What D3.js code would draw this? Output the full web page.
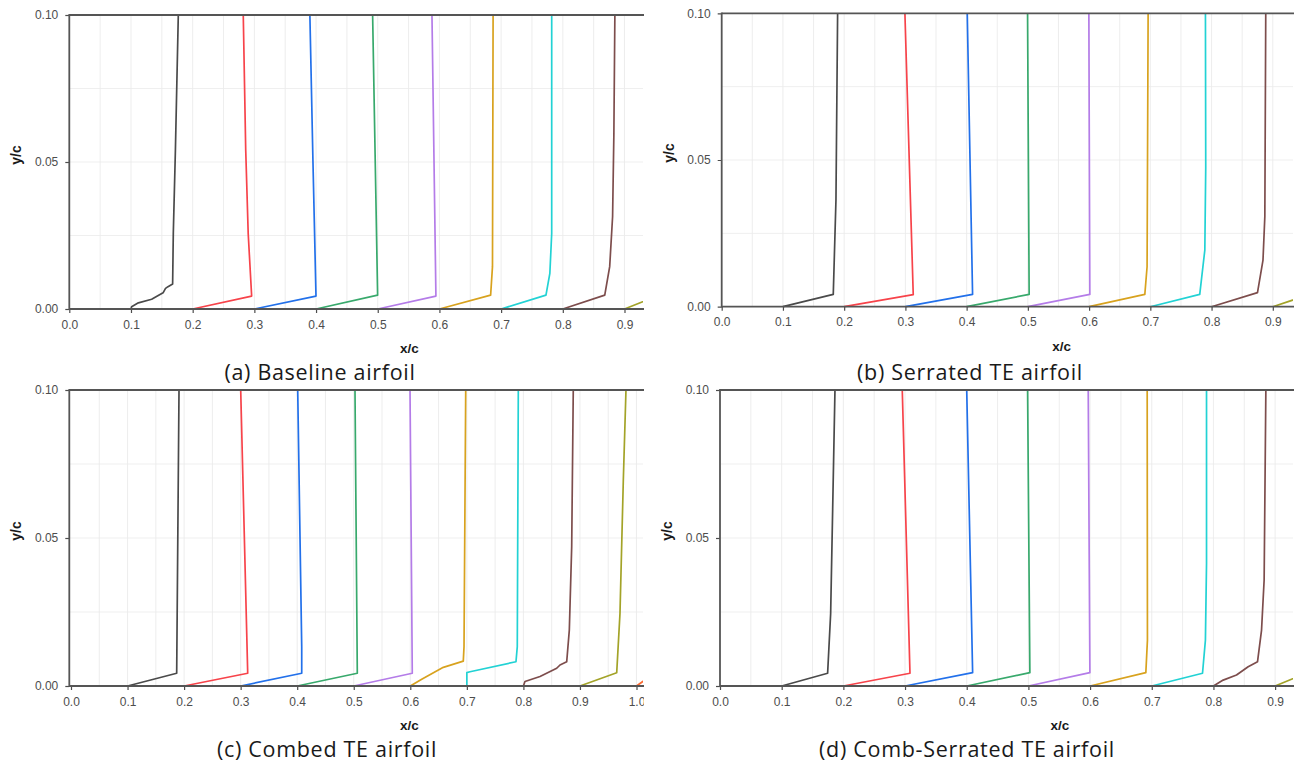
<!DOCTYPE html>
<html>
<head>
<meta charset="utf-8">
<script src="https://cdn.jsdelivr.net/npm/d3@7"></script>
<style>
  html, body { margin: 0; padding: 0; background: #ffffff; }
  svg { display: block; }
</style>
</head>
<body>
<svg id="chart" width="1303" height="767"></svg>
<script>
// Boundary-layer profiles at ten chordwise stations, one array of profiles per trailing-edge design.
// Each profile is a list of [x/c, y/c] points.
const stationColors = ["#4a4a4a", "#f7434a", "#2270ea", "#38a96c", "#b47ce8", "#d8a21e", "#22d2d4", "#7d4d4c", "#a3a328", "#fb6a32"];

const baselineProfiles = [
  [[0.1, 0], [0.101, 0.0008], [0.112, 0.0021], [0.1335, 0.0033], [0.152, 0.0055], [0.156, 0.007], [0.160, 0.0076], [0.1675, 0.0085], [0.1686, 0.0257], [0.172, 0.054], [0.1767, 0.1]],
  [[0.2, 0], [0.2956, 0.0044], [0.290, 0.0257], [0.286, 0.054], [0.282, 0.1]],
  [[0.3, 0], [0.3999, 0.0044], [0.395, 0.05], [0.390, 0.1]],
  [[0.4, 0], [0.4998, 0.0047], [0.4917, 0.1]],
  [[0.5, 0], [0.5943, 0.0044], [0.5879, 0.1]],
  [[0.6, 0], [0.683, 0.0047], [0.686, 0.0144], [0.687, 0.1]],
  [[0.7, 0], [0.7727, 0.0047], [0.779, 0.0121], [0.782, 0.0257], [0.782, 0.1]],
  [[0.8, 0], [0.868, 0.0047], [0.876, 0.0144], [0.8807, 0.0314], [0.8828, 0.0597], [0.8844, 0.1]],
  [[0.9, 0], [0.955, 0.0046], [0.965, 0.1]]
];

const serratedProfiles = [
  [[0.1, 0], [0.1822, 0.0042], [0.1866, 0.0364], [0.1893, 0.1]],
  [[0.2, 0], [0.3128, 0.0041], [0.2992, 0.1]],
  [[0.3, 0], [0.4097, 0.0042], [0.401, 0.1]],
  [[0.4, 0], [0.5021, 0.0042], [0.4995, 0.1]],
  [[0.5, 0], [0.6012, 0.0042], [0.5996, 0.1]],
  [[0.6, 0], [0.691, 0.0042], [0.6947, 0.0136], [0.6964, 0.1]],
  [[0.7, 0], [0.7807, 0.0042], [0.789, 0.0193], [0.7905, 0.0477], [0.790, 0.1]],
  [[0.8, 0], [0.875, 0.0048], [0.884, 0.0159], [0.887, 0.0307], [0.8885, 0.1]],
  [[0.9, 0], [0.965, 0.0045], [0.975, 0.1]]
];

const combedProfiles = [
  [[0.1, 0], [0.1869, 0.0043], [0.191, 0.1]],
  [[0.2, 0], [0.3125, 0.0043], [0.3001, 0.1]],
  [[0.3, 0], [0.408, 0.0043], [0.408, 0.0133], [0.4009, 0.1]],
  [[0.4, 0], [0.5063, 0.0043], [0.5022, 0.1]],
  [[0.5, 0], [0.6035, 0.0043], [0.5995, 0.1]],
  [[0.6, 0], [0.6202, 0.0023], [0.6584, 0.0063], [0.6937, 0.0084], [0.695, 0.0133], [0.698, 0.1]],
  [[0.7, 0], [0.7, 0.0045], [0.7056, 0.0048], [0.7869, 0.0082], [0.7892, 0.0133], [0.791, 0.1]],
  [[0.8, 0], [0.8028, 0.0015], [0.8294, 0.0032], [0.8589, 0.006], [0.8647, 0.0071], [0.8766, 0.0082], [0.8812, 0.0189], [0.8854, 0.047], [0.8882, 0.1]],
  [[0.9, 0], [0.965, 0.0045], [0.9708, 0.0245], [0.9767, 0.0696], [0.9814, 0.1]],
  [[1.0, 0], [1.033, 0.0045], [1.04, 0.1]]
];

const combSerratedProfiles = [
  [[0.1, 0], [0.1745, 0.0043], [0.1794, 0.0245], [0.1864, 0.1]],
  [[0.2, 0], [0.308, 0.0043], [0.2955, 0.1]],
  [[0.3, 0], [0.4096, 0.0045], [0.4, 0.1]],
  [[0.4, 0], [0.5024, 0.0045], [0.4987, 0.1]],
  [[0.5, 0], [0.5997, 0.0045], [0.597, 0.1]],
  [[0.6, 0], [0.6904, 0.0045], [0.693, 0.0155], [0.6926, 0.1]],
  [[0.7, 0], [0.7823, 0.0043], [0.787, 0.0155], [0.7888, 0.0414], [0.7888, 0.1]],
  [[0.8, 0], [0.8158, 0.002], [0.8374, 0.0037], [0.8563, 0.0065], [0.8715, 0.0082], [0.878, 0.0189], [0.8822, 0.0358], [0.885, 0.1]],
  [[0.9, 0], [0.952, 0.0045], [0.962, 0.1]]
];

const xTicks = [0, 0.1, 0.2, 0.3, 0.4, 0.5, 0.6, 0.7, 0.8, 0.9, 1.0];
const yTicks = [0, 0.05, 0.1];
const captions = ["(a) Baseline airfoil", "(b) Serrated TE airfoil", "(c) Combed TE airfoil", "(d) Comb-Serrated TE airfoil"];
const xTitle = "x/c";
const yTitle = "y/c";

// Panel placement on the page
const panels = [
  { profiles: baselineProfiles,     caption: captions[0], left: 69.3,  right: 643,  top: 15,   bottom: 309,   xDomain: [0, 0.93],        clipLeft: 0,   capX: 320, capY: 380 },
  { profiles: serratedProfiles,     caption: captions[1], left: 721.7, right: 1293, top: 13.3, bottom: 306.7, xDomain: [0, 0.933],       clipLeft: 648, capX: 970, capY: 380 },
  { profiles: combedProfiles,       caption: captions[2], left: 69.3,  right: 643,  top: 390,  bottom: 686,   xDomain: [-0.003, 1.0115], clipLeft: 0,   capX: 327, capY: 757 },
  { profiles: combSerratedProfiles, caption: captions[3], left: 720,   right: 1293, top: 390,  bottom: 686,   xDomain: [0, 0.929],       clipLeft: 648, capX: 967, capY: 757 }
];

const svg = d3.select("#chart");
const defs = svg.append("defs");

panels.forEach((p, i) => {
  const x = d3.scaleLinear().domain(p.xDomain).range([p.left, p.right]);
  const y = d3.scaleLinear().domain([0, 0.1]).range([p.bottom, p.top]);

  // whole panel is cut off at its right edge
  defs.append("clipPath").attr("id", "panel-clip-" + i)
    .append("rect")
    .attr("x", p.clipLeft).attr("y", p.top - 12)
    .attr("width", p.right + 1 - p.clipLeft).attr("height", p.bottom - p.top + 64);
  defs.append("clipPath").attr("id", "plot-clip-" + i)
    .append("rect")
    .attr("x", p.left).attr("y", p.top - 2)
    .attr("width", p.right - p.left).attr("height", p.bottom - p.top + 4);

  const g = svg.append("g").attr("clip-path", `url(#panel-clip-${i})`);

  // grid
  const grid = g.append("g").attr("clip-path", `url(#plot-clip-${i})`);
  const xGrid = d3.range(0.05, p.xDomain[1] + 1e-9, 0.05);
  grid.selectAll("line.vx").data(xGrid).join("line")
    .attr("x1", d => x(d)).attr("x2", d => x(d))
    .attr("y1", p.top).attr("y2", p.bottom)
    .attr("stroke", "#e8e8e8").attr("stroke-width", 0.8);
  const yGrid = [0.025, 0.05, 0.075];
  grid.selectAll("line.hy").data(yGrid).join("line")
    .attr("x1", p.left).attr("x2", p.right)
    .attr("y1", d => y(d)).attr("y2", d => y(d))
    .attr("stroke", "#ebebeb").attr("stroke-width", 0.8);

  // profiles
  const line = d3.line().x(d => x(d[0])).y(d => y(d[1]));
  grid.selectAll("path.profile").data(p.profiles).join("path")
    .attr("class", "profile")
    .attr("d", line)
    .attr("fill", "none")
    .attr("stroke", (d, k) => stationColors[k])
    .attr("stroke-width", 1.7)
    .attr("stroke-linejoin", "round");

  // axes
  const ticksX = xTicks.filter(t => t <= p.xDomain[1] + 0.02);
  const xAxis = d3.axisBottom(x).tickValues(ticksX).tickFormat(d3.format(".1f")).tickSize(4).tickPadding(7).tickSizeOuter(0);
  const yAxis = d3.axisLeft(y).tickValues(yTicks).tickFormat(d3.format(".2f")).tickSize(4).tickPadding(7).tickSizeOuter(0);

  const gx = g.append("g").attr("transform", `translate(0,${p.bottom})`).call(xAxis);
  const gy = g.append("g").attr("transform", `translate(${p.left},0)`).call(yAxis);
  [gx, gy].forEach(a => {
    a.select(".domain").remove();
    a.selectAll(".tick line").attr("stroke", "#4d4d4d").attr("stroke-width", 1.2);
    a.selectAll(".tick text")
      .attr("fill", "#4d4d4d")
      .style("font-family", "'Liberation Sans', Arial, sans-serif")
      .style("font-size", "12px");
  });

  // frame: left, top and bottom rules
  const frame = g.append("g").attr("stroke", "#555555").attr("stroke-width", 1.8).attr("fill", "none");
  frame.append("line").attr("x1", p.left).attr("x2", p.right + 1).attr("y1", p.top).attr("y2", p.top);
  frame.append("line").attr("x1", p.left).attr("x2", p.right + 1).attr("y1", p.bottom).attr("y2", p.bottom);
  frame.append("line").attr("x1", p.left).attr("x2", p.left).attr("y1", p.top - 0.9).attr("y2", p.bottom + 0.9);

  // axis titles
  g.append("text")
    .attr("x", p.left + 340).attr("y", p.bottom + 44)
    .attr("text-anchor", "middle")
    .attr("fill", "#1a1a1a")
    .style("font-family", "'Liberation Sans', Arial, sans-serif")
    .style("font-size", "13.5px").style("font-weight", "bold")
    .text(xTitle);
  g.append("text")
    .attr("transform", `translate(${p.left - 48},${(p.top + p.bottom) / 2 - 7}) rotate(-90)`)
    .attr("text-anchor", "middle")
    .attr("fill", "#1a1a1a")
    .style("font-family", "'Liberation Sans', Arial, sans-serif")
    .style("font-size", "14px").style("font-weight", "bold")
    .text(yTitle);

  // caption
  svg.append("text")
    .attr("x", p.capX).attr("y", p.capY)
    .attr("text-anchor", "middle")
    .attr("fill", "#1a1a1a")
    .style("font-family", "'Open Sans', Lato, sans-serif")
    .style("font-size", "21.5px")
    .style("letter-spacing", "0.7px")
    .text(p.caption);
});
</script>
</body>
</html>
